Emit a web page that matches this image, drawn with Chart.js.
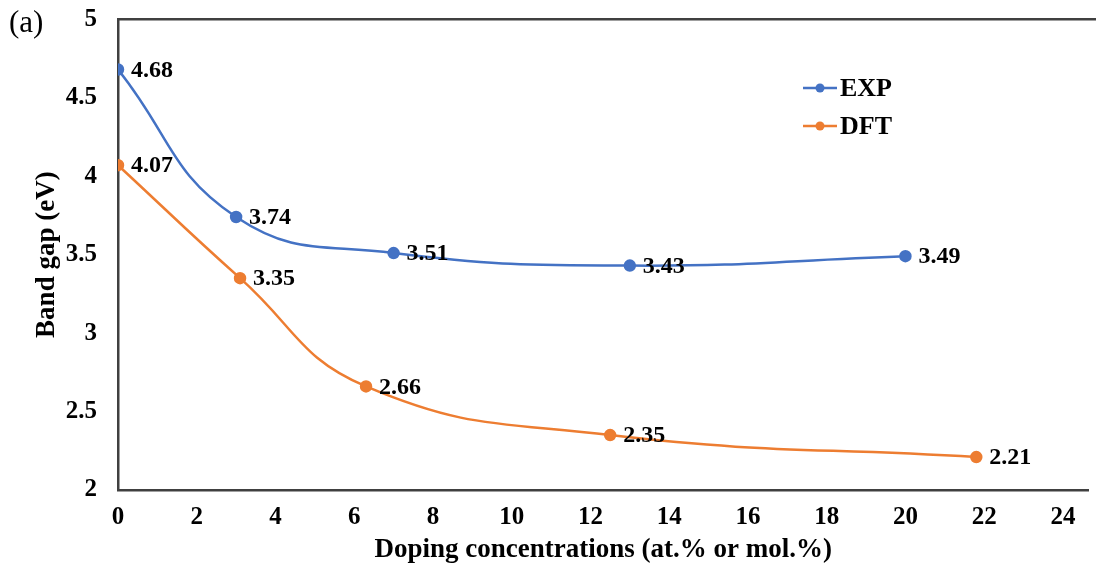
<!DOCTYPE html>
<html>
<head>
<meta charset="utf-8">
<script src="https://cdn.jsdelivr.net/npm/chart.js@4.4.1/dist/chart.umd.min.js"></script>
<style>
  html, body { margin: 0; padding: 0; background: #fff; }
  #wrap { position: relative; width: 1096px; height: 568px; }
</style>
</head>
<body>
<div id="wrap"><canvas id="bandChart" width="1096" height="568"></canvas></div>
<script>
// valores
const expX = [0, 3, 7, 13, 20];
const expY = [4.68, 3.74, 3.51, 3.43, 3.49];
const dftX = [0, 3.1, 6.3, 12.5, 21.8];
const dftY = [4.07, 3.35, 2.66, 2.35, 2.21];
const seriesNames = ["EXP", "DFT"];
const xTicks = [0, 2, 4, 6, 8, 10, 12, 14, 16, 18, 20, 22, 24];

const blue = "#4472C4";
const orange = "#ED7D31";
const axisColor = "#404040";
const serif = "'Liberation Serif', 'Times New Roman', serif";

const toPoints = (xs, ys) => xs.map((x, i) => ({ x, y: ys[i] }));

// etiquetas de valor, leyenda y borde superior
const extras = {
  id: "extras",
  afterDatasetsDraw(chart) {
    const { ctx, chartArea } = chart;
    ctx.save();
    ctx.font = "bold 24px " + serif;
    ctx.fillStyle = "#000";
    ctx.textBaseline = "middle";
    ctx.textAlign = "left";
    chart.data.datasets.forEach((ds, i) => {
      chart.getDatasetMeta(i).data.forEach((pt, j) => {
        ctx.fillText(ds.data[j].y.toFixed(2), pt.x + 13, pt.y + 1);
      });
    });

    // borde superior
    ctx.strokeStyle = axisColor;
    ctx.lineWidth = 2.5;
    ctx.beginPath();
    ctx.moveTo(chartArea.left, chartArea.top);
    ctx.lineTo(chart.width, chartArea.top);
    ctx.stroke();

    // leyenda
    const lx = 803, ly = [88, 126];
    chart.data.datasets.forEach((ds, i) => {
      ctx.strokeStyle = ds.borderColor;
      ctx.lineWidth = 2.5;
      ctx.beginPath();
      ctx.moveTo(lx, ly[i]);
      ctx.lineTo(lx + 34, ly[i]);
      ctx.stroke();
      ctx.fillStyle = ds.borderColor;
      ctx.beginPath();
      ctx.arc(lx + 17, ly[i], 4.5, 0, Math.PI * 2);
      ctx.fill();
      ctx.fillStyle = "#000";
      ctx.font = "bold 26px " + serif;
      ctx.fillText(ds.label, lx + 37, ly[i] + 1);
    });

    // etiqueta (a)
    ctx.font = "31px " + serif;
    ctx.fillText("(a)", 9, 24);
    ctx.restore();
  }
};

new Chart(document.getElementById("bandChart"), {
  type: "line",
  data: {
    datasets: [
      {
        label: seriesNames[0],
        data: toPoints(expX, expY),
        borderColor: blue,
        backgroundColor: blue,
        borderWidth: 2.5,
        pointRadius: 5,
        tension: 0.45,
        fill: false
      },
      {
        label: seriesNames[1],
        data: toPoints(dftX, dftY),
        borderColor: orange,
        backgroundColor: orange,
        borderWidth: 2.5,
        pointRadius: 5,
        tension: 0.45,
        fill: false
      }
    ]
  },
  options: {
    responsive: false,
    animation: false,
    layout: { padding: { top: 0, left: 31, right: -8, bottom: 0 } },
    plugins: { legend: { display: false }, tooltip: { enabled: false } },
    scales: {
      x: {
        type: "linear",
        min: 0,
        max: 24.65,
        afterBuildTicks: (scale) => { scale.ticks = xTicks.map(v => ({ value: v })); },
        afterFit: (scale) => { scale.height = 78; },
        grid: { display: false },
        border: { display: true, color: axisColor, width: 2.5 },
        ticks: {
          color: "#000",
          padding: 5,
          maxRotation: 0,
          font: { family: serif, size: 25, weight: "bold" }
        },
        title: {
          display: true,
          text: "Doping concentrations (at.% or mol.%)",
          color: "#000",
          padding: { top: 0, bottom: 2 },
          font: { family: serif, size: 27, weight: "bold" }
        }
      },
      y: {
        min: 2,
        max: 5,
        afterFit: (scale) => { scale.width = 87; },
        grid: { display: false },
        border: { display: true, color: axisColor, width: 2.5 },
        ticks: {
          stepSize: 0.5,
          color: "#000",
          padding: 13,
          callback: (v) => String(v),
          font: { family: serif, size: 25, weight: "bold", lineHeight: 0.5 }
        },
        title: {
          display: true,
          text: "Band gap (eV)",
          color: "#000",
          padding: { top: 0, bottom: 0 },
          font: { family: serif, size: 27, weight: "bold" }
        }
      }
    }
  },
  plugins: [extras]
});
</script>
</body>
</html>
